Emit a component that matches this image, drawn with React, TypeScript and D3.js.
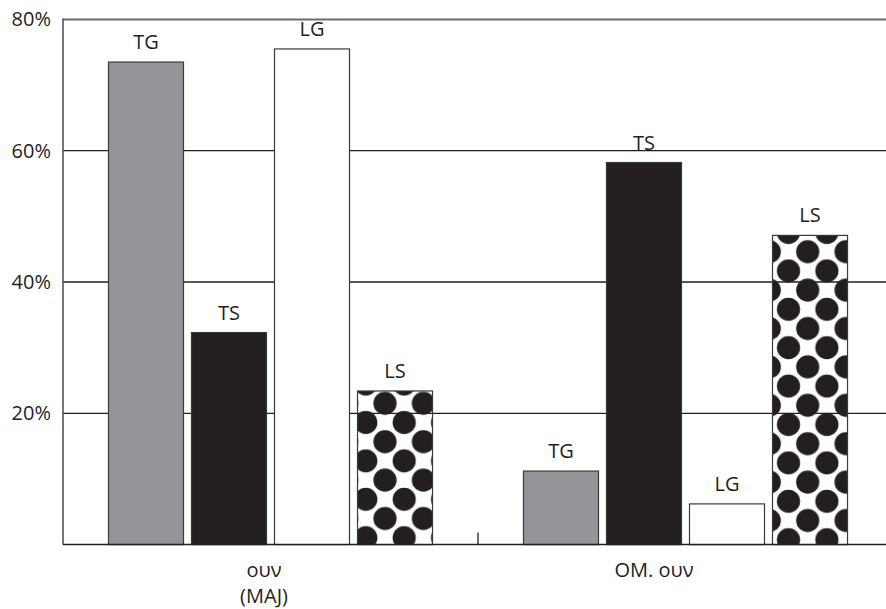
import React from "react";
import * as d3 from "d3";

const categories = ["g1", "g2"];
const categoryLines: string[][] = [["ουν", "(MAJ)"], ["ΟΜ. ουν"]];
const series = ["TG", "TS", "LG", "LS"];
const valuesG1 = [73.5, 32.3, 75.5, 23.4];
const valuesG2 = [11.2, 58.2, 6.2, 47.1];
const yTicks = [20, 40, 60, 80];

const W = 886;
const H = 609;
const left = 63;
const top = 19.4;
const bottom = 544.6;
const TEXT = "#231f20";
const FONT = "'Open Sans', sans-serif";

const fills: Record<string, string> = {
  TG: "#939598",
  TS: "#231f20",
  LG: "#ffffff",
};

// pattern phases (layout)
const patternPhase = [
  { x: 385, y: 403.3 },
  { x: 807.7, y: 251.7 },
];
const labelDx = [-6.5, -31.5];

export default function App() {
  const data = [valuesG1, valuesG2];
  const x0 = d3.scaleBand<string>().domain(categories).range([left, left + 830]).padding(0);
  const x1 = d3
    .scaleBand<string>()
    .domain(series)
    .range([0, x0.bandwidth()])
    .paddingInner(0.0964)
    .paddingOuter(0.548);
  const y = d3.scaleLinear().domain([0, 80]).range([bottom, top]);
  const P = 38.4;

  return (
    <svg
      width={W}
      height={H}
      style={{ position: "absolute", left: 0, top: 0, background: "#fff" }}
      fontFamily={FONT}
    >
      <defs>
        {patternPhase.map((p, i) => (
          <pattern
            key={i}
            id={`dots${i}`}
            patternUnits="userSpaceOnUse"
            x={p.x}
            y={p.y}
            width={P}
            height={P}
          >
            {[
              [0, 0],
              [P, 0],
              [0, P],
              [P, P],
              [P / 2, P / 2],
            ].map(([cx, cy], j) => (
              <circle key={j} cx={cx} cy={cy} r={11.6} fill="#231f20" />
            ))}
          </pattern>
        ))}
      </defs>

      {/* gridlines */}
      {yTicks.map((t) => (
        <line
          key={t}
          x1={left}
          x2={W}
          y1={y(t)}
          y2={y(t)}
          stroke={t === 80 ? "#6d6d6d" : "#231f20"}
          strokeWidth={t === 80 ? 2 : 1.3}
        />
      ))}

      {/* bars */}
      {categories.map((c, gi) =>
        series.map((s, si) => {
          const v = data[gi][si];
          const bx = (x0(c) as number) + (x1(s) as number);
          const bw = x1.bandwidth();
          const fill = s === "LS" ? `url(#dots${gi})` : fills[s];
          return (
            <g key={c + s}>
              <rect
                x={bx}
                y={y(v)}
                width={bw}
                height={y(0) - y(v)}
                fill={fill}
                stroke="#3a3a3a"
                strokeWidth={1.2}
              />
              <text
                x={bx + bw / 2}
                y={y(v) - 13}
                textAnchor="middle"
                fontSize={20}
                fill={TEXT}
              >
                {s}
              </text>
            </g>
          );
        })
      )}

      {/* axes */}
      <line x1={left} x2={left} y1={top - 1} y2={bottom} stroke="#555" strokeWidth={1.6} />
      <line x1={left} x2={W} y1={bottom} y2={bottom} stroke="#231f20" strokeWidth={1.5} />
      <line
        x1={x0("g2") as number}
        x2={x0("g2") as number}
        y1={bottom - 12}
        y2={bottom}
        stroke="#231f20"
        strokeWidth={1.3}
      />

      {/* y tick labels */}
      {yTicks.map((t) => (
        <text
          key={t}
          x={51}
          y={y(t)}
          dy="0.35em"
          textAnchor="end"
          fontSize={20}
          fill={TEXT}
        >
          {t}%
        </text>
      ))}

      {/* category labels */}
      {categories.map((c, gi) =>
        categoryLines[gi].map((line, li) => (
          <text
            key={c + li}
            x={(x0(c) as number) + x0.bandwidth() / 2 + labelDx[gi]}
            y={577 + li * 26}
            textAnchor="middle"
            fontSize={20}
            fill={TEXT}
          >
            {line}
          </text>
        ))
      )}
    </svg>
  );
}
